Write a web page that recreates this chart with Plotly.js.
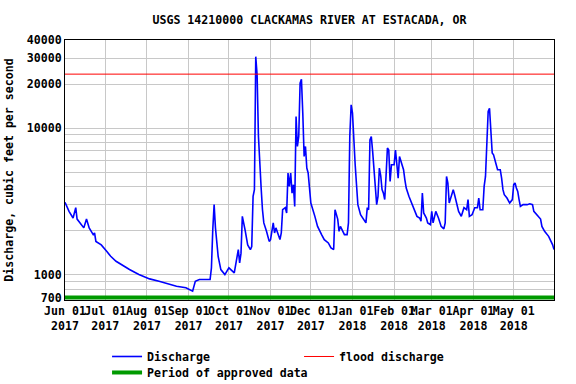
<!DOCTYPE html>
<html><head><meta charset="utf-8">
<script src="https://cdn.plot.ly/plotly-3.0.1.min.js"></script>
<style>html,body{margin:0;padding:0;background:#fff}#chart{width:576px;height:384px}</style>
</head><body><div id="chart"></div>
<script>
const dates = [
'2017-06-01','2017-06-04','2017-06-07','2017-06-09','2017-06-10','2017-06-12','2017-06-15','2017-06-17','2017-06-19','2017-06-22',
'2017-06-23','2017-06-24','2017-06-28','2017-07-02','2017-07-05','2017-07-09','2017-07-14','2017-07-19','2017-07-26','2017-08-03',
'2017-08-10','2017-08-23','2017-08-30','2017-09-04','2017-09-06','2017-09-09','2017-09-17','2017-09-18','2017-09-19','2017-09-20',
'2017-09-21','2017-09-23','2017-09-25','2017-09-28','2017-10-01','2017-10-05','2017-10-08','2017-10-09','2017-10-10','2017-10-11',
'2017-10-13','2017-10-15','2017-10-17','2017-10-18','2017-10-19','2017-10-20','2017-10-21','2017-10-22','2017-10-23','2017-10-24',
'2017-10-25','2017-10-26','2017-10-27','2017-10-29','2017-10-31','2017-11-01','2017-11-03','2017-11-04','2017-11-05','2017-11-08',
'2017-11-09','2017-11-10','2017-11-12','2017-11-13','2017-11-14','2017-11-15','2017-11-16','2017-11-17','2017-11-18','2017-11-19',
'2017-11-20','2017-11-21','2017-11-22','2017-11-23','2017-11-24','2017-11-25','2017-11-26','2017-11-27','2017-11-28','2017-11-29',
'2017-11-30','2017-12-01','2017-12-04','2017-12-06','2017-12-09','2017-12-11','2017-12-14','2017-12-16','2017-12-18','2017-12-19',
'2017-12-21','2017-12-22','2017-12-23','2017-12-26','2017-12-28','2017-12-29','2017-12-30','2017-12-31','2018-01-01','2018-01-02',
'2018-01-03','2018-01-04','2018-01-05','2018-01-07','2018-01-09','2018-01-11','2018-01-12','2018-01-13','2018-01-14','2018-01-15',
'2018-01-16','2018-01-17','2018-01-18','2018-01-19','2018-01-20','2018-01-21','2018-01-22','2018-01-23','2018-01-24','2018-01-25',
'2018-01-26','2018-01-27','2018-01-28','2018-01-29','2018-01-30','2018-02-01','2018-02-02','2018-02-03','2018-02-04','2018-02-05',
'2018-02-06','2018-02-08','2018-02-09','2018-02-10','2018-02-12','2018-02-14','2018-02-16','2018-02-18','2018-02-20','2018-02-21',
'2018-02-22','2018-02-23','2018-02-25','2018-02-26','2018-02-28','2018-03-01','2018-03-02','2018-03-03','2018-03-04','2018-03-06',
'2018-03-08','2018-03-10','2018-03-11','2018-03-12','2018-03-13','2018-03-14','2018-03-15','2018-03-17','2018-03-18','2018-03-20',
'2018-03-21','2018-03-23','2018-03-25','2018-03-27','2018-03-28','2018-03-29','2018-03-31','2018-04-02','2018-04-04','2018-04-05',
'2018-04-06','2018-04-08','2018-04-09','2018-04-10','2018-04-11','2018-04-12','2018-04-13','2018-04-14','2018-04-15','2018-04-16',
'2018-04-17','2018-04-18','2018-04-19','2018-04-21','2018-04-22','2018-04-23','2018-04-24','2018-04-26','2018-04-28','2018-04-30',
'2018-05-01','2018-05-02','2018-05-03','2018-05-04','2018-05-05','2018-05-06','2018-05-08','2018-05-11','2018-05-13','2018-05-15',
'2018-05-16','2018-05-18','2018-05-21','2018-05-22','2018-05-24','2018-05-27','2018-05-29','2018-05-30','2018-05-31'
];
const discharge = [
3120,2710,2440,2870,2400,2260,2090,2400,2090,1880,
1930,1690,1600,1445,1337,1237,1156,1086,1004,938,
903,835,815,773,903,929,929,1115,2030,3010,
2090,1337,1086,1004,1115,1030,1486,1206,1400,2505,
2030,1600,1486,1560,3430,3810,30800,23100,8790,5210,
3910,2780,2260,1980,1690,1738,2260,1930,2090,1738,
1930,2780,2870,2640,4950,4010,4950,3610,4120,2930,
12000,7510,8790,20300,21600,12700,6420,7510,5350,4950,
3810,3090,2505,2140,1880,1738,1650,1527,1486,2780,
2400,1980,2140,1880,1880,2260,8790,14450,12700,7510,
5640,4120,3010,2570,2400,2260,2870,2780,8340,8790,
6950,4950,3810,3010,3430,5350,4760,3810,3610,3260,
4760,7330,7100,4340,5640,5640,7100,5930,4570,6420,
5930,5210,4450,3910,3430,3090,2710,2505,2440,2320,
3610,2640,2440,2260,2200,2710,2260,2440,2710,2440,
2140,2055,2260,4690,4230,3090,3340,3810,3520,3010,
2710,2505,2870,2780,3260,2505,2570,2870,2870,3340,
2780,2780,4010,4690,7510,13000,13700,10270,6770,6590,
5930,5640,5210,5210,4570,3810,3520,3340,3090,3260,
4120,4230,3910,3710,3260,2930,3010,3010,3050,3010,
2710,2570,2400,2140,1980,1830,1690,1600,1486
];
const floodDischarge = 23400;
const approvedLevel = 700;
const approvedPeriod = ['2017-06-01','2018-05-31'];
const xRange = ['2017-06-01','2018-05-31'];
const monthTicks = ['2017-06-01','2017-07-01','2017-08-01','2017-09-01','2017-10-01','2017-11-01','2017-12-01',
  '2018-01-01','2018-02-01','2018-03-01','2018-04-01','2018-05-01'];
const monthLabels = ['Jun 01<br>2017','Jul 01<br>2017','Aug 01<br>2017','Sep 01<br>2017','Oct 01<br>2017','Nov 01<br>2017',
  'Dec 01<br>2017','Jan 01<br>2018','Feb 01<br>2018','Mar 01<br>2018','Apr 01<br>2018','May 01<br>2018'];
const yTickVals = [700,800,900,1000,2000,3000,4000,5000,6000,7000,8000,9000,10000,20000,30000,40000];
const yTickText = ['700','','','1000','','','','','','','','','10000','20000','30000','40000'];

const F = 'DejaVu Sans Mono';
const fnt = {family: F, size: 11.6, color: '#000', weight: 'bold'};

const traces = [
  {x: dates, y: discharge, type: 'scatter', mode: 'lines', name: 'Discharge',
   line: {color: '#0000FF', width: 1.6}, legend: 'legend'},
  {x: xRange, y: [floodDischarge, floodDischarge], type: 'scatter', mode: 'lines', name: 'flood discharge',
   line: {color: '#FF0000', width: 1}, legend: 'legend'},
  {x: approvedPeriod, y: [approvedLevel, approvedLevel], type: 'scatter', mode: 'lines', name: 'Period of approved data',
   line: {color: '#009A00', width: 4}, legend: 'legend2'}
];

const legendCommon = {orientation: 'h', x: 0.086, xanchor: 'left', yanchor: 'top',
  font: fnt, bgcolor: 'rgba(0,0,0,0)', traceorder: 'normal', itemwidth: 30};

const layout = {
  width: 576, height: 384,
  margin: {l: 65, r: 22, t: 40, b: 84, pad: 0, autoexpand: false},
  paper_bgcolor: '#fff', plot_bgcolor: '#fff',
  font: fnt,
  title: {text: 'USGS 14210000 CLACKAMAS RIVER AT ESTACADA, OR', font: fnt,
    x: 0.5, xanchor: 'center', xref: 'paper', y: 1 - 20/384, yref: 'container', yanchor: 'middle'},
  showlegend: true,
  legend: Object.assign({}, legendCommon, {y: -0.1615, entrywidth: 147, entrywidthmode: 'pixels'}),
  legend2: Object.assign({}, legendCommon, {y: -0.223}),
  xaxis: {type: 'date', range: xRange, tickvals: monthTicks, ticktext: monthLabels,
    showgrid: true, gridcolor: '#C8C8C8', gridwidth: 1, zeroline: false,
    showline: true, linecolor: '#000', linewidth: 1, mirror: true,
    ticks: '', tickfont: fnt, tickangle: 0},
  yaxis: {type: 'log', range: [Math.log10(673), Math.log10(40000)], tickvals: yTickVals, ticktext: yTickText,
    showgrid: true, gridcolor: '#C8C8C8', gridwidth: 1, zeroline: false,
    showline: true, linecolor: '#000', linewidth: 1, mirror: true,
    ticks: '', tickfont: fnt,
    title: {text: 'Discharge, cubic feet per second', font: fnt, standoff: 10}}
};

Plotly.newPlot('chart', traces, layout, {displayModeBar: false, staticPlot: true});
</script>
</body></html>
